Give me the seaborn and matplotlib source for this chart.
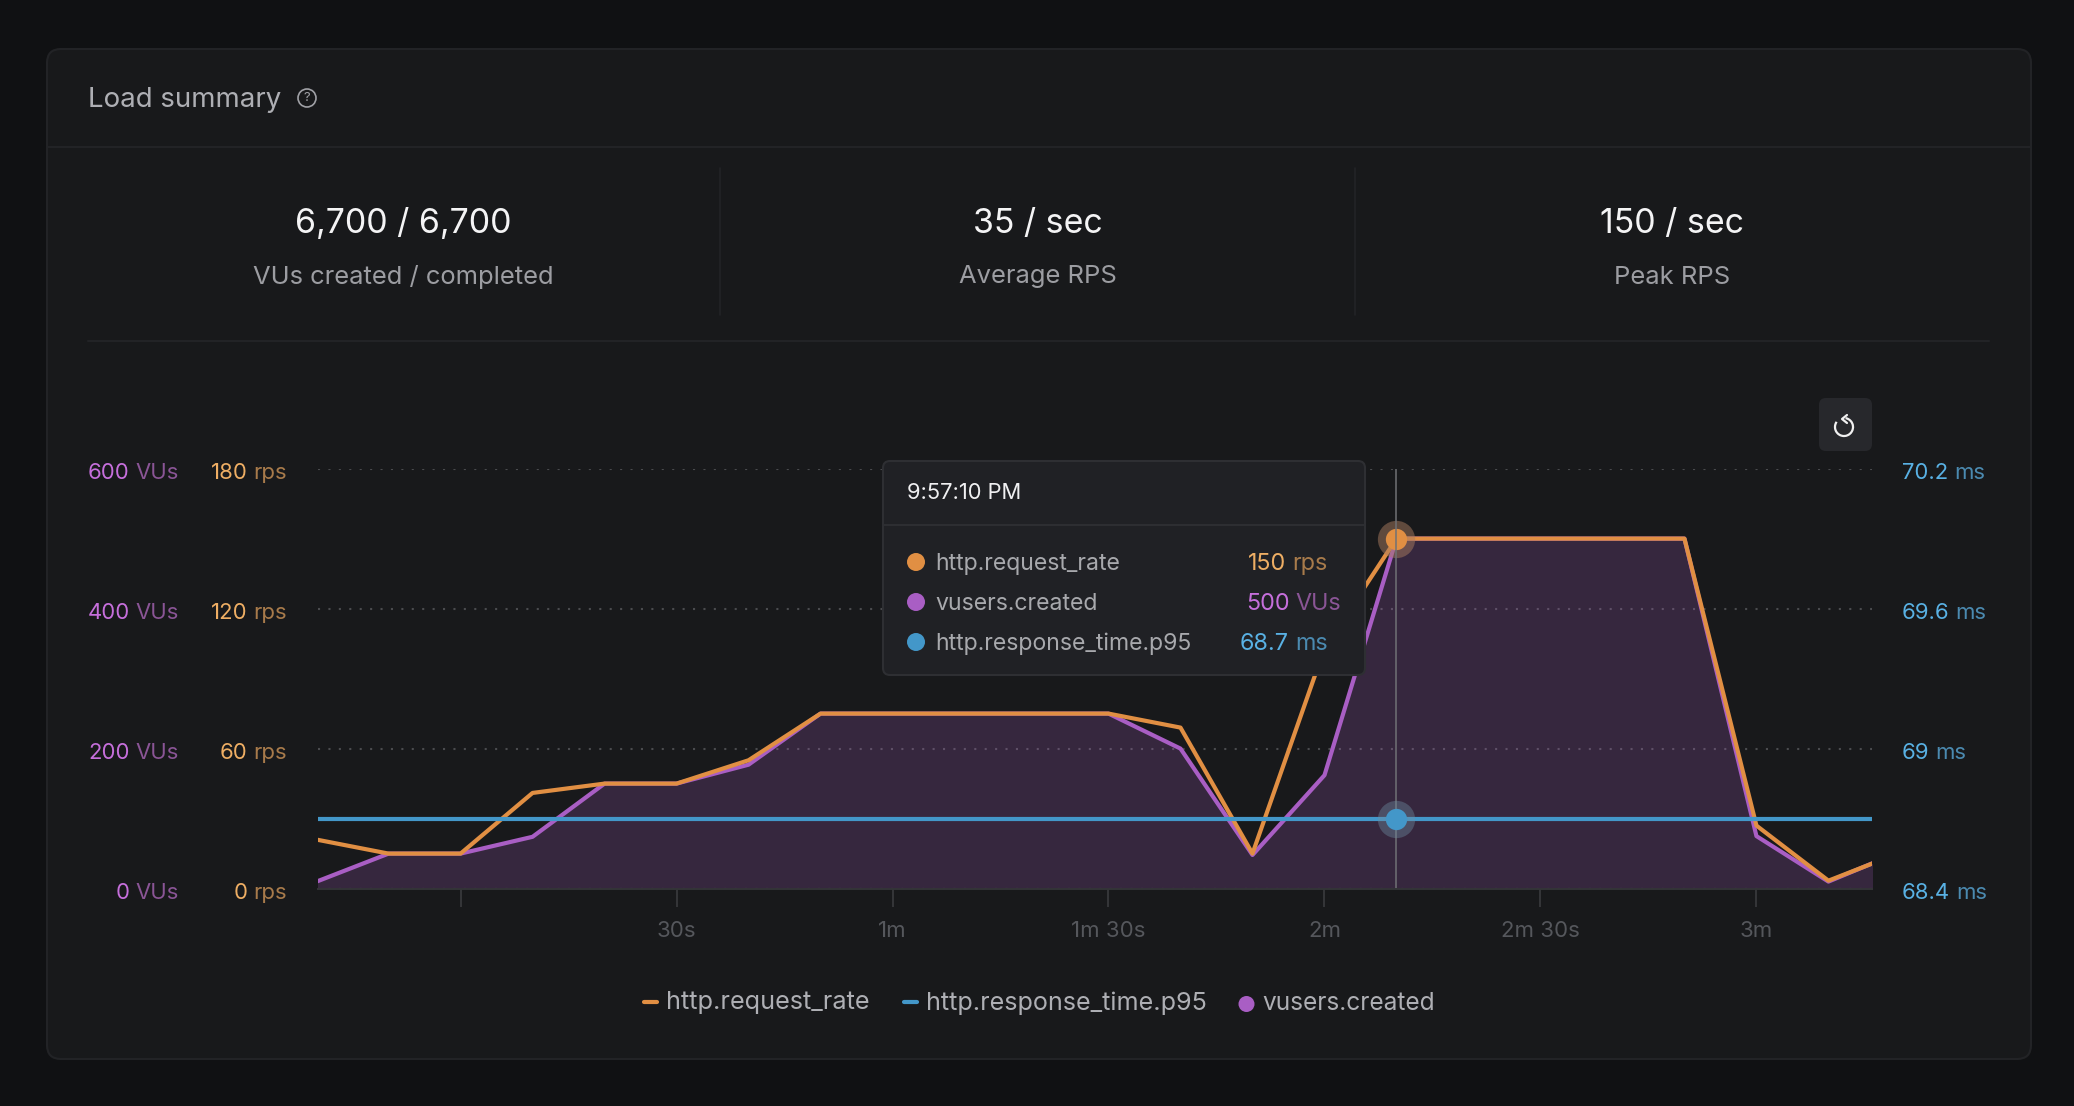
import pandas as pd
import matplotlib.pyplot as plt
from matplotlib.patches import FancyBboxPatch, Circle, Arc
import seaborn as sns

# Values
seconds = [-20, -10, 0, 10, 20, 30, 40, 50, 60, 70, 80, 90, 100, 110, 120,
           130, 140, 150, 160, 170, 180, 190, 196.3]
request_rate = [21, 15, 15, 41, 45, 45, 55, 75, 75, 75, 75, 75, 69, 15, 103,
                150, 150, 150, 150, 150, 27, 3.4, 11]
vusers_created = [10, 50, 50, 74, 150, 150, 177, 250, 250, 250, 250, 250, 200, 48, 162,
                  500, 500, 500, 500, 500, 75, 10, 37]
response_time = [68.7] * len(seconds)

x_ticks = [0, 30, 60, 90, 120, 150, 180]
x_labels = ["", "30s", "1m", "1m 30s", "2m", "2m 30s", "3m"]
vu_ticks = [0, 200, 400, 600]
rps_ticks = [0, 60, 120, 180]
ms_ticks = [68.4, 69, 69.6, 70.2]
ms_labels = ["68.4", "69", "69.6", "70.2"]

stats = [("6,700 / 6,700", "VUs created / completed", 403),
         ("35 / sec", "Average RPS", 1038),
         ("150 / sec", "Peak RPS", 1672)]

ORANGE, PURPLE, BLUE = "#e18f43", "#a95ec4", "#4397c9"
OUTER, CARD, LINE = "#101113", "#18191b", "#222326"

df = pd.DataFrame({"t": seconds, "rps": request_rate, "vus": vusers_created, "ms": response_time})

sns.set_theme(style="dark")
plt.rcParams["font.family"] = ["Inter", "DejaVu Sans"]

W, H = 2074, 1106
fig = plt.figure(figsize=(W / 100, H / 100), dpi=100, facecolor=OUTER)

# background layer in pixel coordinates
bg = fig.add_axes([0, 0, 1, 1], zorder=0)
bg.set_xlim(0, W)
bg.set_ylim(H, 0)
bg.axis("off")
bg.add_patch(FancyBboxPatch((47, 49), 1984, 1010, boxstyle="round,pad=0,rounding_size=14",
                            fc=CARD, ec=LINE, lw=1.5))
bg.plot([47, 2031], [146.5, 146.5], color=LINE, lw=1.5)
bg.plot([88, 1989], [341, 341], color=LINE, lw=1.5)
for xv in [720, 1355]:
    bg.plot([xv, xv], [168, 315], color=LINE, lw=1.2)

# chart axes
ax = fig.add_axes([318 / W, 1 - 888.6 / H, (1872 - 318) / W, 420 / H], zorder=2)
ax.patch.set_alpha(0)
ax_rps = ax.twinx()
ax_ms = ax.twinx()
for a in [ax_rps, ax_ms]:
    a.patch.set_alpha(0)
    a.grid(False)

ax.fill_between(df["t"], df["vus"], 0, color=PURPLE, alpha=0.21, lw=0)
sns.lineplot(data=df, x="t", y="vus", ax=ax, color=PURPLE, lw=3, legend=False)
sns.lineplot(data=df, x="t", y="rps", ax=ax_rps, color=ORANGE, lw=3, legend=False)
sns.lineplot(data=df, x="t", y="ms", ax=ax_ms, color=BLUE, lw=3, legend=False)

ax.set_xlim(-19.8, 196.05)
ax.set_ylim(0, 600)
ax_rps.set_ylim(0, 180)
ax_ms.set_ylim(68.4, 70.2)

ax.set_xticks(x_ticks)
ax.set_xticklabels(x_labels, color="#55575c", fontsize=16)
ax.tick_params(axis="x", length=13, width=1.3, color="#38393c", pad=10, bottom=True)
ax.set_yticks(vu_ticks)
ax.set_yticklabels([])
ax.tick_params(axis="y", length=0)
ax_rps.set_yticks(rps_ticks)
ax_rps.set_yticklabels([])
ax_rps.tick_params(axis="y", length=0)
ax_ms.set_yticks(ms_ticks)
ax_ms.set_yticklabels([])
ax_ms.tick_params(axis="y", length=0)
ax.set_xlabel("")
ax.set_ylabel("")
ax_rps.set_ylabel("")
ax_ms.set_ylabel("")
ax.yaxis.grid(True, color="#4a4b4e", linestyle=(0, (1, 4)), lw=1.5)
ax.xaxis.grid(False)
for a in [ax, ax_rps, ax_ms]:
    for name, spine in a.spines.items():
        spine.set_visible(name == "bottom")
        spine.set_color("#333437")
        spine.set_linewidth(1.4)

# hover marker
ax_ms.axvline(130, color="#707175", lw=1.1, zorder=1)
ax_rps.scatter([130], [150], s=720, color="#a87b5f", alpha=0.5, lw=0, zorder=5)
ax_rps.scatter([130], [150], s=235, color=ORANGE, lw=0, zorder=6)
ax_ms.scatter([130], [68.7], s=720, color="#6f8ea3", alpha=0.4, lw=0, zorder=5)
ax_ms.scatter([130], [68.7], s=235, color=BLUE, lw=0, zorder=6)

# top layer in pixel coordinates
top = fig.add_axes([0, 0, 1, 1], zorder=10)
top.set_xlim(0, W)
top.set_ylim(H, 0)
top.axis("off")
top.patch.set_alpha(0)
renderer = fig.canvas.get_renderer()


def pair_right(x, y, num, unit, c1, c2, size=15.9):
    u = top.text(x, y, unit, color=c2, fontsize=size, ha="right", va="baseline")
    left = u.get_window_extent(renderer).x0
    top.text(left - 6, y, num, color=c1, fontsize=size, ha="right", va="baseline")


def pair_left(x, y, num, unit, c1, c2, size=15.9):
    n = top.text(x, y, num, color=c1, fontsize=size, ha="left", va="baseline")
    right = n.get_window_extent(renderer).x1
    top.text(right + 6, y, unit, color=c2, fontsize=size, ha="left", va="baseline")


def pixel_y(axis, value):
    return H - axis.transData.transform((0, value))[1]


for v in vu_ticks:
    pair_right(179, pixel_y(ax, v) + 10, str(v), "VUs", "#c66fdc", "#8a5596")
for v in rps_ticks:
    pair_right(287, pixel_y(ax_rps, v) + 10, str(v), "rps", "#eeae64", "#a87b4b")
for v, lab in zip(ms_ticks, ms_labels):
    pair_left(1902, pixel_y(ax_ms, v) + 10, lab, "ms", "#59b1e4", "#4b8ab0")

# header and stats
top.text(88, 100, "Load summary", color="#aeafb4", fontsize=19.9, ha="left", va="center")
top.add_patch(Circle((307, 98), 9, fc="none", ec="#a0a1a6", lw=1.2))
top.text(307, 98, "?", color="#a0a1a6", fontsize=9.5, ha="center", va="center")
for big, small, xc in stats:
    top.text(xc, 224, big, color="#f4f4f5", fontsize=24.4, ha="center", va="center")
    top.text(xc, 277, small, color="#9c9da2", fontsize=18.4, ha="center", va="center")

# reset button
top.add_patch(FancyBboxPatch((1819, 398), 53, 53, boxstyle="round,pad=0,rounding_size=7",
                             fc="#27282c", ec="none", zorder=3))
top.add_patch(Arc((1844, 427), 18, 18, theta1=-80, theta2=215, color="#f0f0f0", lw=1.6, zorder=4))
top.plot([1847, 1842, 1847], [415, 419, 423], color="#f0f0f0", lw=1.6, zorder=4)

# tooltip
top.add_patch(FancyBboxPatch((883, 461), 482, 214, boxstyle="round,pad=0,rounding_size=7",
                             fc="#202125", ec="#2e2f33", lw=1.5, zorder=3))
top.plot([884, 1364], [525, 525], color="#2e2f33", lw=1.4, zorder=4)
top.text(907, 493, "9:57:10 PM", color="#f0f0f2", fontsize=15.8, ha="left", va="center", zorder=5)
rows = [("http.request_rate", "150", "rps", ORANGE, "#eeae64", "#a87b4b", 1248, 570),
        ("vusers.created", "500", "VUs", PURPLE, "#c66fdc", "#8a5596", 1246, 610),
        ("http.response_time.p95", "68.7", "ms", BLUE, "#59b1e4", "#4b8ab0", 1240, 650)]
for name, val, unit, col, c1, c2, xv, base in rows:
    top.add_patch(Circle((916, base - 8), 9, fc=col, ec="none", zorder=5))
    top.text(935, base, name, color="#a8a9ad", fontsize=16.6, ha="left", va="baseline", zorder=5)
    n = top.text(xv, base, val, color=c1, fontsize=16.8, ha="left", va="baseline", zorder=5)
    top.text(n.get_window_extent(renderer).x1 + 6, base, unit, color=c2, fontsize=16.8,
             ha="left", va="baseline", zorder=5)

# legend
top.plot([644, 657], [1002, 1002], color=ORANGE, lw=3, solid_capstyle="round")
top.text(666, 1003, "http.request_rate", color="#aeafb4", fontsize=18.2, ha="left", va="center")
top.plot([904, 917], [1002, 1002], color=BLUE, lw=3, solid_capstyle="round")
top.text(926, 1003, "http.response_time.p95", color="#aeafb4", fontsize=18.1, ha="left", va="center")
top.add_patch(Circle((1246.5, 1004), 8, fc=PURPLE, ec="none"))
top.text(1262, 1003, "vusers.created", color="#aeafb4", fontsize=17.6, ha="left", va="center")

fig.savefig("out.png", dpi=100, facecolor=OUTER)
